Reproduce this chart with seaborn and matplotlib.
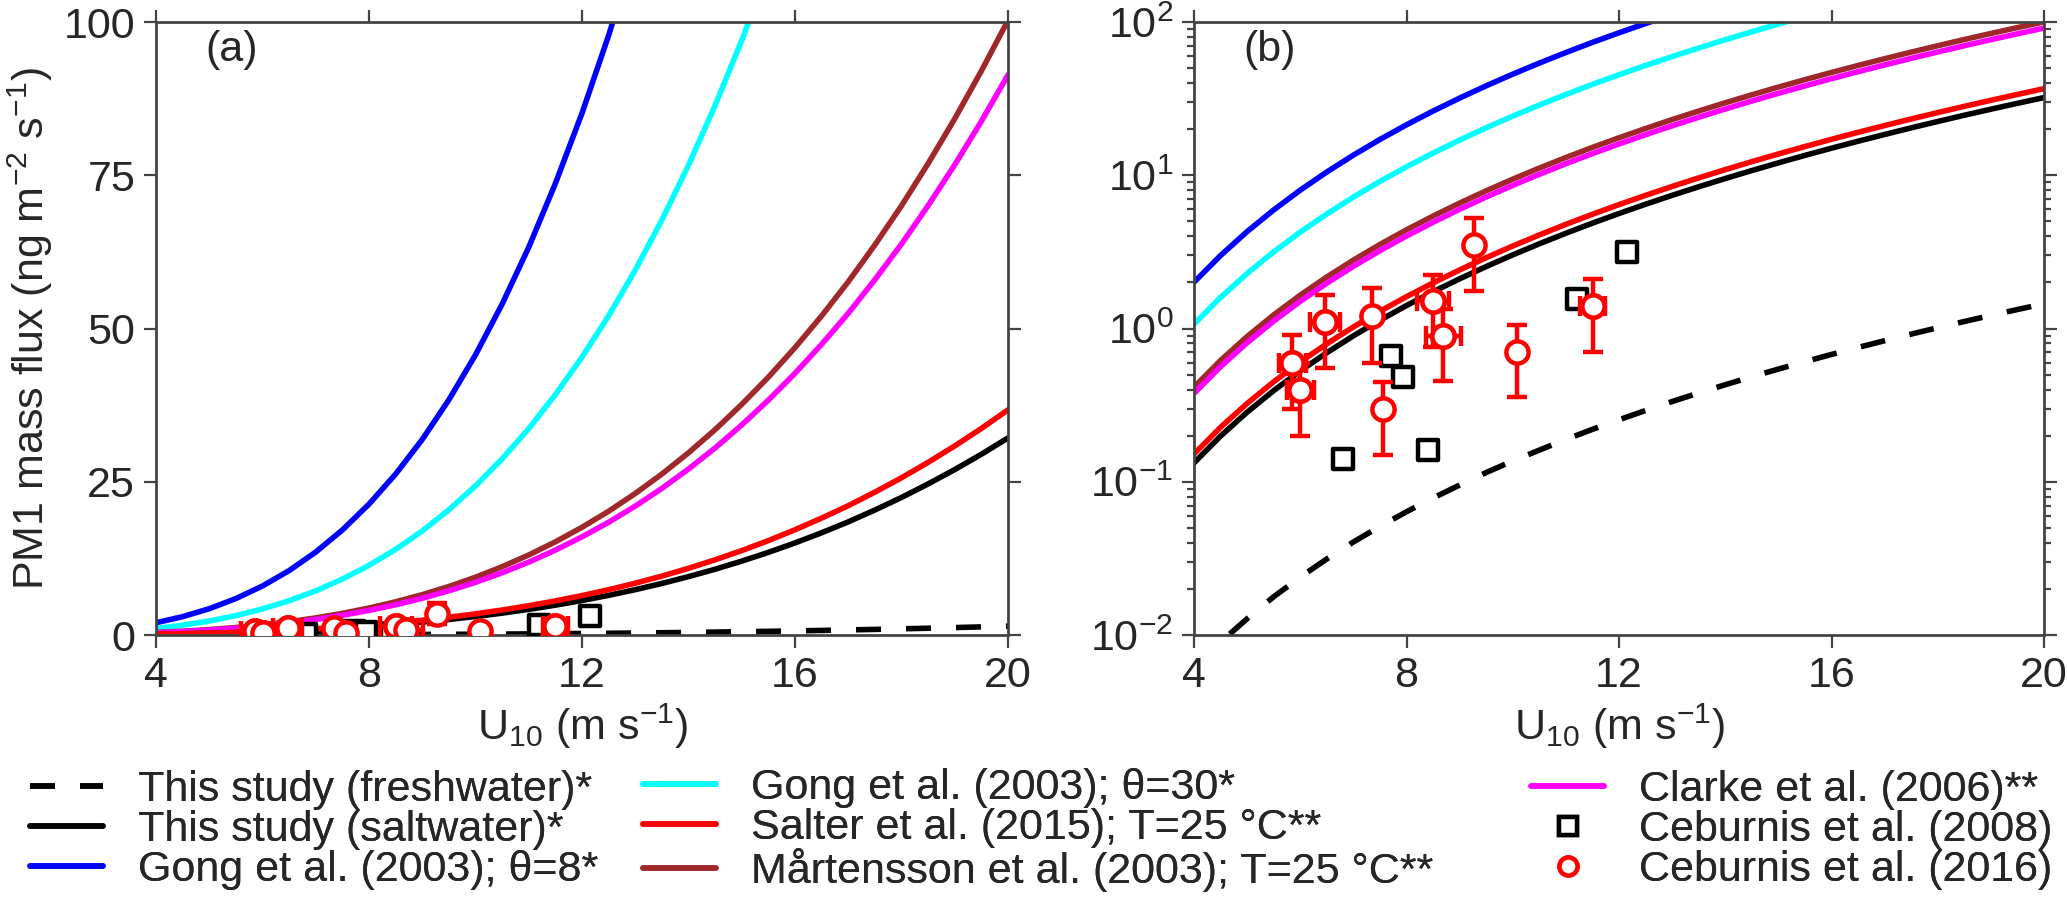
import numpy as np
import pandas as pd
import seaborn as sns
import matplotlib.pyplot as plt
import matplotlib.lines as mlines

### 1. Values (every 0.5 m/s)
wind = [4.0, 4.5, 5.0, 5.5, 6.0, 6.5, 7.0, 7.5, 8.0, 8.5, 9.0, 9.5, 10.0,
        10.5, 11.0, 11.5, 12.0, 12.5, 13.0, 13.5, 14.0, 14.5, 15.0, 15.5,
        16.0, 16.5, 17.0, 17.5, 18.0, 18.5, 19.0, 19.5, 20.0]

fresh = [0.0060, 0.0090, 0.0128, 0.0178, 0.0239, 0.0314, 0.0405, 0.0512,
         0.0638, 0.0784, 0.0953, 0.115, 0.137, 0.161, 0.189, 0.220, 0.254,
         0.292, 0.334, 0.380, 0.430, 0.485, 0.544, 0.608, 0.678, 0.753,
         0.833, 0.920, 1.013, 1.112, 1.218, 1.331, 1.451]
salt = [0.133, 0.199, 0.285, 0.394, 0.530, 0.696, 0.897, 1.134, 1.414, 1.738,
        2.112, 2.540, 3.026, 3.574, 4.188, 4.876, 5.635, 6.474, 7.403, 8.419,
        9.531, 10.74, 12.06, 13.49, 15.03, 16.69, 18.47, 20.40, 22.45, 24.66,
        27.00, 29.50, 32.16]
gong8 = [2.01, 3.00, 4.30, 5.95, 8.01, 10.52, 13.55, 17.15, 21.37, 26.27,
         31.92, 38.39, 45.73, 54.01, 63.29, 73.69, 85.16, 97.85, 111.9,
         127.2, 144.0, 162.4, 182.3, 203.8, 227.1, 252.3, 279.2, 308.3,
         339.3, 372.7, 408.0, 445.8, 486.0]
gong30 = [1.07, 1.60, 2.29, 3.17, 4.26, 5.60, 7.21, 9.13, 11.37, 13.98,
          16.99, 20.44, 24.34, 28.75, 33.69, 39.23, 45.34, 52.09, 59.56,
          67.73, 76.68, 86.43, 97.04, 108.5, 120.9, 134.3, 148.6, 164.1,
          180.6, 198.4, 217.2, 237.3, 258.7]
salter = [0.152, 0.227, 0.325, 0.450, 0.606, 0.796, 1.025, 1.297, 1.616,
          1.987, 2.414, 2.903, 3.458, 4.084, 4.786, 5.572, 6.440, 7.399,
          8.460, 9.622, 10.89, 12.28, 13.78, 15.41, 17.18, 19.08, 21.11,
          23.32, 25.66, 28.18, 30.86, 33.71, 36.75]
martensson = [0.415, 0.620, 0.888, 1.229, 1.654, 2.173, 2.798, 3.540, 4.411,
              5.424, 6.590, 7.927, 9.441, 11.15, 13.07, 15.21, 17.58, 20.20,
              23.10, 26.27, 29.74, 33.52, 37.64, 42.08, 46.90, 52.08, 57.64,
              63.66, 70.05, 76.94, 84.25, 92.05, 100.3]
clarke = [0.378, 0.565, 0.809, 1.120, 1.506, 1.979, 2.548, 3.224, 4.018,
          4.940, 6.003, 7.220, 8.600, 10.16, 11.90, 13.86, 16.02, 18.40,
          21.04, 23.93, 27.09, 30.53, 34.28, 38.33, 42.71, 47.44, 52.50,
          57.99, 63.81, 70.08, 76.73, 83.84, 91.40]

# Ceburnis et al. (2008)
c08_u = [6.81, 7.71, 7.94, 8.41, 11.2, 12.14]
c08_f = [0.141, 0.66, 0.48, 0.161, 1.56, 3.16]

# Ceburnis et al. (2016) with error bars
c16_u = [5.85, 6.0, 6.47, 7.35, 7.56, 8.5, 8.69, 9.27, 10.08, 11.5]
c16_f = [0.60, 0.40, 1.10, 1.21, 0.30, 1.51, 0.90, 3.5, 0.70, 1.40]
c16_lo = [0.30, 0.20, 0.55, 0.60, 0.15, 0.76, 0.455, 1.76, 0.36, 0.70]
c16_hi = [0.91, 0.60, 1.66, 1.84, 0.45, 2.24, 1.35, 5.25, 1.06, 2.11]
c16_uerr = [0.25, 0.25, 0.28, 0.0, 0.0, 0.30, 0.33, 0.0, 0.0, 0.24]

labels = {
    'fresh': 'This study (freshwater)*',
    'salt': 'This study (saltwater)*',
    'gong8': 'Gong et al. (2003); θ=8*',
    'gong30': 'Gong et al. (2003); θ=30*',
    'salter': 'Salter et al. (2015); T=25 °C**',
    'martensson': 'Mårtensson et al. (2003); T=25 °C**',
    'clarke': 'Clarke et al. (2006)**',
}
colors = {'fresh': 'black', 'salt': 'black', 'gong8': '#0000ff',
          'gong30': '#00ffff', 'salter': '#ff0000', 'martensson': '#a0282a',
          'clarke': '#ff00ff'}
dashes = {k: '' for k in colors}
dashes['fresh'] = (4.5, 4.5)

### 2. Long table for seaborn
curve_vals = {'fresh': fresh, 'salt': salt, 'gong8': gong8, 'gong30': gong30,
              'salter': salter, 'martensson': martensson, 'clarke': clarke}
curves = pd.concat(
    [pd.DataFrame({'U10': wind, 'flux': v, 'model': k})
     for k, v in curve_vals.items()], ignore_index=True)
order = ['fresh', 'gong8', 'gong30', 'martensson', 'clarke', 'salt', 'salter']

### 3. Style
sns.set_theme(style='ticks')
plt.rcParams['font.family'] = ['Liberation Sans', 'DejaVu Sans']
plt.rcParams['mathtext.fontset'] = 'custom'
plt.rcParams['mathtext.rm'] = 'Liberation Sans'
plt.rcParams['mathtext.it'] = 'Liberation Sans:italic'
plt.rcParams['mathtext.default'] = 'regular'
plt.rcParams['font.size'] = 30
edge = '#444444'
lw = 4

fig = plt.figure(figsize=(20.67, 9), dpi=100)
ax_a = fig.add_axes([0.0755, 0.2944, 0.4122, 0.6811])
ax_b = fig.add_axes([0.5777, 0.2944, 0.4112, 0.6811])

for ax in (ax_a, ax_b):
    sns.lineplot(data=curves, x='U10', y='flux', hue='model', style='model',
                 hue_order=order, style_order=order, palette=colors,
                 dashes=dashes, linewidth=lw, estimator=None, sort=False,
                 legend=False, ax=ax)
    sns.scatterplot(x=c08_u, y=c08_f, marker='s', s=200, color='white',
                    edgecolor='black', linewidth=3.2, zorder=4, ax=ax)
    yerr = [np.array(c16_f) - np.array(c16_lo),
            np.array(c16_hi) - np.array(c16_f)]
    ax.errorbar(c16_u, c16_f, yerr=yerr, fmt='o', color='red', mfc='white',
                mec='red', ms=16, mew=3.2, elinewidth=3.2, capsize=7,
                capthick=3.2, zorder=5)
    xu = [u for u, e in zip(c16_u, c16_uerr) if e > 0]
    xf = [f for f, e in zip(c16_f, c16_uerr) if e > 0]
    xe = [e for e in c16_uerr if e > 0]
    ax.errorbar(xu, xf, xerr=xe, fmt='none', ecolor='red', elinewidth=3.2,
                capsize=7, capthick=3.2, zorder=4.5)
    ax.errorbar(xu, xf, fmt='o', color='red', mfc='white', mec='red',
                ms=16, mew=3.2, zorder=5.5)

    ax.set_xlim(4, 20)
    ax.set_xticks([4, 8, 12, 16, 20])
    ax.set_xlabel('U$_{10}$ (m s$^{-1}$)', fontsize=31, labelpad=4)
    ax.tick_params(which='both', direction='out', top=True, right=True,
                   labeltop=False, labelright=False, color=edge, width=1.6,
                   labelsize=31, pad=6)
    ax.tick_params(which='major', length=9)
    ax.tick_params(which='minor', length=5)
    for sp in ax.spines.values():
        sp.set_color(edge)
        sp.set_linewidth(2)

ax_a.set_ylim(0, 100)
ax_a.set_yticks([0, 25, 50, 75, 100])
ax_a.set_ylabel('PM1 mass flux (ng m$^{-2}$ s$^{-1}$)', fontsize=31,
                labelpad=6)
ax_a.text(0.089, 0.955, '(a)', transform=ax_a.transAxes, fontsize=31,
          ha='center', va='center')

ax_b.set_yscale('log')
ax_b.set_ylim(1e-2, 1e2)
ax_b.set_ylabel('')
ax_b.text(0.089, 0.955, '(b)', transform=ax_b.transAxes, fontsize=31,
          ha='center', va='center')

### 4. Legend, three columns placed like the reference
def line_handle(key):
    if key == 'fresh':
        return mlines.Line2D([], [], color=colors[key], linewidth=lw,
                             dashes=(4.5, 4.5), label=labels[key])
    return mlines.Line2D([], [], color=colors[key], linewidth=lw,
                         label=labels[key])

col1 = [line_handle('fresh'), line_handle('salt'), line_handle('gong8')]
col2 = [line_handle('gong30'), line_handle('salter'),
        line_handle('martensson')]
col3 = [line_handle('clarke'),
        mlines.Line2D([], [], color='black', marker='s', mfc='white',
                      ms=13, mew=3.2, linestyle='none',
                      label='Ceburnis et al. (2008)'),
        mlines.Line2D([], [], color='red', marker='o', mfc='white',
                      ms=13, mew=3.2, linestyle='none',
                      label='Ceburnis et al. (2016)')]

for handles, x0 in ((col1, 30 / 2067), (col2, 643 / 2067),
                    (col3, 1531 / 2067)):
    leg = fig.legend(handles=handles, loc='center left',
                     bbox_to_anchor=(x0, 0.078), frameon=False, fontsize=31,
                     handlelength=1.7, handletextpad=0.8, labelspacing=0.0,
                     borderpad=0, borderaxespad=0)
    fig.add_artist(leg)

fig.savefig('out.png', dpi=100)
